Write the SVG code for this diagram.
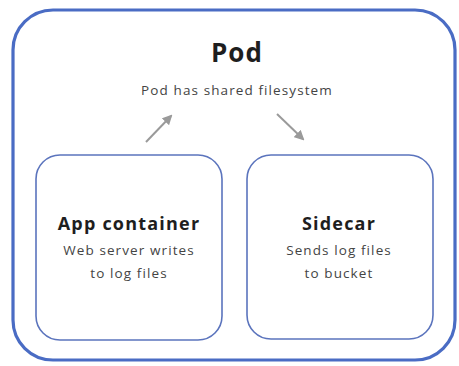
<svg xmlns="http://www.w3.org/2000/svg" width="459" height="366" viewBox="0 0 459 366">
<defs>
<marker id="ah" viewBox="0 0 10 10" refX="8" refY="5" markerWidth="5" markerHeight="5" orient="auto">
<path d="M0,0 L10,5 L0,10 z" fill="#9a9a9a"/>
</marker>
<style>
.t{font-family:"Open Sans",Lato,sans-serif;fill:#1e1e1e;text-anchor:middle}
.title{font-weight:bold;font-size:18px;letter-spacing:1.2px}
.sub{font-size:13.5px;fill:#444;letter-spacing:1.1px}
.box{fill:#fff;stroke:#5b74bd;stroke-width:1.6}
.conn{stroke:#9a9a9a;stroke-width:2;fill:none;marker-end:url(#ah)}
</style>
</defs>
<rect width="459" height="366" fill="#fff"/>
<g id="pod">
<rect x="13" y="10" width="442" height="350" rx="40" fill="#fff" stroke="#4a6cc4" stroke-width="3.2"/>
<text class="t" x="237" y="62" font-weight="bold" font-size="26" letter-spacing="1">Pod</text>
<text class="t sub" x="237" y="95" font-size="14">Pod has shared filesystem</text>
</g>
<g id="connectors">
<line class="conn" x1="146" y1="142" x2="171" y2="116"/>
<line class="conn" x1="277" y1="114" x2="303" y2="139"/>
</g>
<g id="app">
<rect class="box" x="36" y="155" width="186" height="185" rx="24"/>
<text class="t title" x="129" y="230">App container</text>
<text class="t sub" x="129" y="255">Web server writes</text>
<text class="t sub" x="129" y="278">to log files</text>
</g>
<g id="sidecar">
<rect class="box" x="247" y="155" width="186" height="184" rx="24"/>
<text class="t title" x="339" y="230">Sidecar</text>
<text class="t sub" x="339" y="255">Sends log files</text>
<text class="t sub" x="339" y="278">to bucket</text>
</g>
</svg>
